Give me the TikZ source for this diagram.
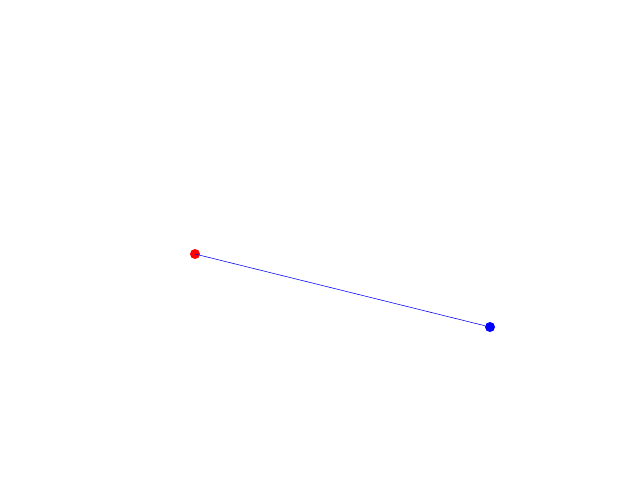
\documentclass[tikz,border=0pt]{standalone}
\usepackage{tikz}

\begin{document}
\begin{tikzpicture}[x=0.025cm,y=-0.025cm]
\useasboundingbox (0,0) rectangle (640,480);
\begin{scope}[every node/.style={circle,inner sep=0pt,minimum size=0.25cm}]
    \node[fill=red] (A) at (195,254) {};
    \node[fill=blue] (B) at (490,327) {};
\end{scope}

\draw[blue, line width=0.4pt] (A.center) -- (B);
\end{tikzpicture}
\end{document}
